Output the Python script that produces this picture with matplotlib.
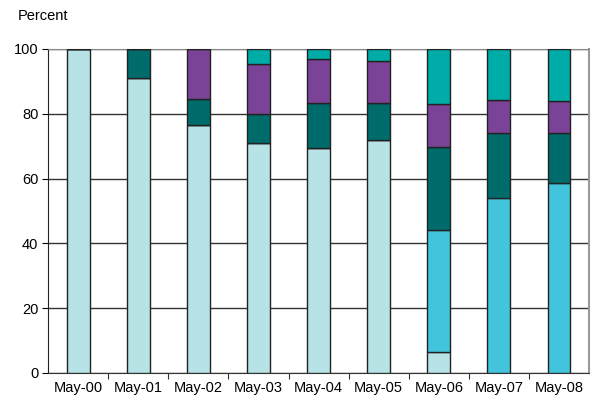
import matplotlib.pyplot as plt
import numpy as np

plt.rcParams['font.family'] = ['Liberation Sans', 'DejaVu Sans']

months = ['May-00', 'May-01', 'May-02', 'May-03', 'May-04', 'May-05', 'May-06', 'May-07', 'May-08']
light = [100, 91.0, 76.6, 71.1, 69.4, 71.9, 6.4, 0, 0]
bright = [0, 0, 0, 0, 0, 0, 37.7, 53.9, 58.5]
dark = [0, 9.0, 7.9, 8.7, 13.9, 11.4, 25.8, 20.2, 15.5]
purple = [0, 0, 15.5, 15.6, 13.5, 13.1, 13.1, 10.1, 9.9]
teal = [0, 0, 0, 4.6, 3.2, 3.6, 17.0, 15.8, 16.1]

series = [light, bright, dark, purple, teal]
colors = ['#b8e3e6', '#42c4dc', '#006b6b', '#7b4397', '#00aca8']

fig = plt.figure(figsize=(5.94, 4.0), dpi=100)
ax = fig.add_axes([0.081, 0.0675, 0.9106, 0.81])

x = np.arange(len(months))
bottom = np.zeros(len(months))
for vals, c in zip(series, colors):
    vals = np.array(vals, dtype=float)
    ax.bar(x, vals, 0.38, bottom=bottom, color=c, edgecolor='#222222', linewidth=1, zorder=3)
    bottom += vals

ax.set_xlim(-0.5, 8.5)
ax.set_ylim(0, 100)
ax.set_yticks([0, 20, 40, 60, 80, 100])
ax.yaxis.grid(True, color='#333333', linewidth=1, zorder=0)
ax.set_xticks(np.arange(0.5, 8.5, 1))
ax.set_xticklabels([])
ax.set_xticks(x, minor=True)
ax.set_xticklabels(months, minor=True)
ax.tick_params(axis='x', which='minor', length=0, pad=6, labelsize=10.5)
ax.tick_params(axis='x', which='major', length=4, direction='out', color='#333333')
ax.tick_params(axis='y', length=4, direction='out', labelsize=10.5, pad=3)

ax.spines['top'].set_color('#888888')
ax.spines['right'].set_color('#999999')
ax.spines['right'].set_linewidth(1.5)
ax.spines['left'].set_color('#222222')
ax.spines['bottom'].set_color('#333333')

fig.text(0.03, 0.96, 'Percent', fontsize=10.5, ha='left', va='center')

fig.savefig('out.png', dpi=100)
